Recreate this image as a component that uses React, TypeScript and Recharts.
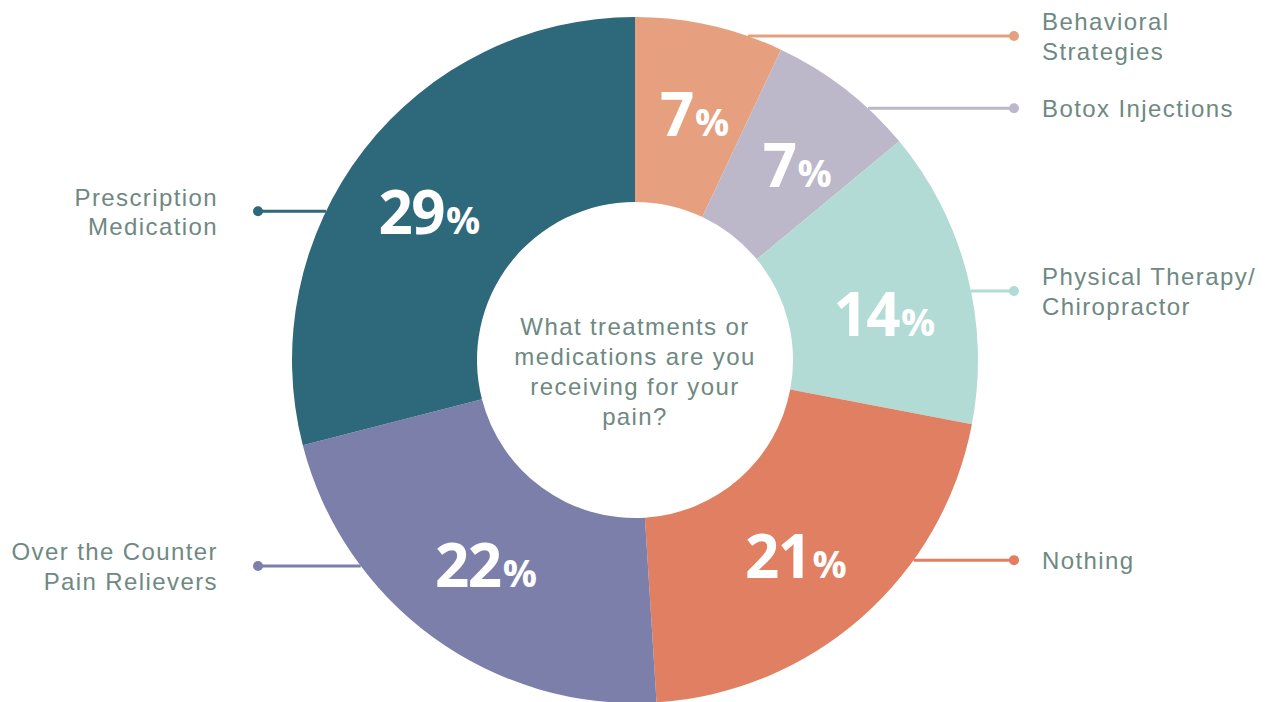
import { Cell, Pie, PieChart } from "recharts";

const CATEGORIES = [
  ["Behavioral", "Strategies"],
  ["Botox Injections"],
  ["Physical Therapy/", "Chiropractor"],
  ["Nothing"],
  ["Over the Counter", "Pain Relievers"],
  ["Prescription", "Medication"],
];
const SHARES = [7, 7, 14, 21, 22, 29];
const COLORS = ["#E6A07F", "#BDB8C9", "#B1DBD4", "#E07F61", "#7D7FAB", "#2E687B"];
const QUESTION = ["What treatments or", "medications are you", "receiving for your", "pain?"];

// where each leader line leaves the ring, degrees clockwise from 12 o'clock
const LEADER_ANGLES = [19.2, 42.8, 78.4, 125.7, 233.1, 295.7];
// small nudges for the percent labels, degrees
const LABEL_NUDGE = [1, 2, 4, 2, 0, -2];

const TEXT = "#6E8982";
const SANS = "'Liberation Sans', Arial, sans-serif";
const RAD = Math.PI / 180;

const data = SHARES.map((v, i) => ({ name: CATEGORIES[i].join(" "), value: v, idx: i }));

function renderLabel(props: any) {
  const { cx, cy, midAngle, innerRadius, outerRadius, index, value } = props;
  const r = (innerRadius + outerRadius) / 2 + 3;
  const m = (midAngle - LABEL_NUDGE[index]) * RAD;
  const lx = cx + r * Math.cos(-m);
  const ly = cy + r * Math.sin(-m);

  const a = LEADER_ANGLES[index] * RAD;
  const sx = cx + outerRadius * Math.sin(a);
  const sy = cy - outerRadius * Math.cos(a);
  const right = Math.sin(a) > 0;
  const dotX = right ? cx + 379 : cx - 377;
  const textX = right ? cx + 407 : cx - 417;
  const lines = CATEGORIES[index];
  const lh = 29.5;

  return (
    <g>
      {index === 0 && (
        <text x={cx} y={cy} textAnchor="middle" fill={TEXT} fontFamily={SANS} fontSize={24} letterSpacing={1.4}>
          {QUESTION.map((q, i) => (
            <tspan key={i} x={cx} y={cy - 25 + i * 30}>
              {q}
            </tspan>
          ))}
        </text>
      )}
      <text
        x={lx}
        y={ly + 22}
        textAnchor="middle"
        fill="#fff"
        fontFamily="'Open Sans', sans-serif"
        fontWeight={700}
      >
        <tspan fontSize={60} letterSpacing={-1.5}>{value}</tspan>
        <tspan fontSize={38} dx={2}>%</tspan>
      </text>
      <line x1={sx} y1={sy} x2={dotX} y2={sy} stroke={COLORS[index]} strokeWidth={3} />
      <circle cx={dotX} cy={sy} r={5} fill={COLORS[index]} />
      <text
        textAnchor={right ? "start" : "end"}
        fill={TEXT}
        fontFamily={SANS}
        fontSize={24}
        letterSpacing={1.4}
        dominantBaseline="central"
      >
        {lines.map((t, i) => (
          <tspan key={i} x={textX} y={sy + (i - (lines.length - 1) / 2) * lh}>
            {t}
          </tspan>
        ))}
      </text>
    </g>
  );
}

export default function App() {
  return (
    <div style={{ position: "absolute", left: 0, top: 0, width: 1270, height: 702, background: "#fff" }}>
      <PieChart width={1270} height={702} margin={{ top: 0, right: 0, bottom: 0, left: 0 }}>
        <Pie
          data={data}
          dataKey="value"
          nameKey="name"
          cx={635}
          cy={360}
          innerRadius={158}
          outerRadius={343}
          startAngle={90}
          endAngle={-270}
          stroke="none"
          label={renderLabel}
          labelLine={false}
          isAnimationActive={false}
        >
          {data.map((d) => (
            <Cell key={d.idx} fill={COLORS[d.idx]} />
          ))}
        </Pie>
      </PieChart>
    </div>
  );
}
